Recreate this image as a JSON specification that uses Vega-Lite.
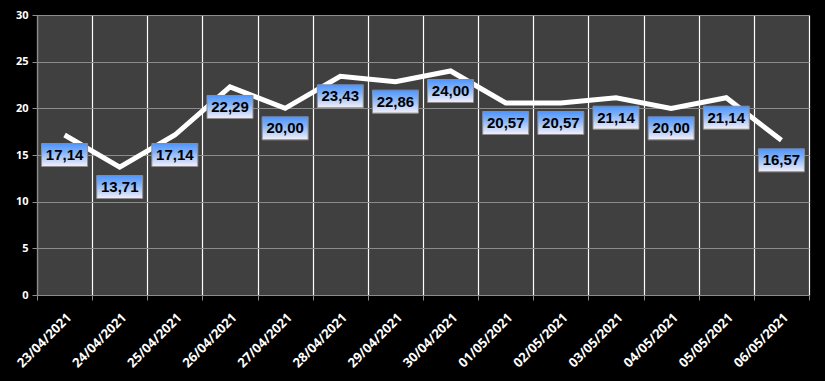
{
  "$schema": "https://vega.github.io/schema/vega-lite/v6.json",
  "width": 772,
  "height": 280,
  "autosize": {"type": "none"},
  "padding": {"left": 37, "top": 15, "right": 16, "bottom": 86},
  "background": "#000000",
  "config": {
    "locale": {"number": {"decimal": ",", "thousands": ".", "grouping": [3], "currency": ["", " €"]}},
    "view": {"fill": "#404040", "stroke": null},
    "axis": {"labelFont": "Open Sans", "labelFontWeight": "bold", "labelFontSize": 11, "labelColor": "#ffffff", "domainColor": "#8c8c8c", "tickColor": "#8c8c8c", "tickSize": 5, "title": null}
  },
  "data": {"values": [
    {"date": "23/04/2021", "value": 17.14},
    {"date": "24/04/2021", "value": 13.71},
    {"date": "25/04/2021", "value": 17.14},
    {"date": "26/04/2021", "value": 22.29},
    {"date": "27/04/2021", "value": 20.00},
    {"date": "28/04/2021", "value": 23.43},
    {"date": "29/04/2021", "value": 22.86},
    {"date": "30/04/2021", "value": 24.00},
    {"date": "01/05/2021", "value": 20.57},
    {"date": "02/05/2021", "value": 20.57},
    {"date": "03/05/2021", "value": 21.14},
    {"date": "04/05/2021", "value": 20.00},
    {"date": "05/05/2021", "value": 21.14},
    {"date": "06/05/2021", "value": 16.57}
  ]},
  "encoding": {
    "x": {
      "field": "date", "type": "ordinal", "sort": null, "bandPosition": 0.5,
      "scale": {"type": "band", "paddingInner": 0, "paddingOuter": 0},
      "axis": {"labelAngle": -45, "labelFontSize": 13, "tickBand": "extent", "grid": true, "gridColor": "#ffffff", "gridWidth": 1.2, "labelPadding": 11}
    },
    "y": {
      "field": "value", "type": "quantitative",
      "scale": {"domain": [0, 30], "nice": false},
      "axis": {"values": [0, 5, 10, 15, 20, 25, 30], "format": "d", "grid": true, "gridColor": "#8c8c8c", "labelPadding": 4}
    }
  },
  "layer": [
    {"mark": {"type": "line", "color": "#ffffff", "strokeWidth": 5, "strokeJoin": "miter"}},
    {"mark": {"type": "point", "filled": true, "opacity": 1, "shape": "M-1,-0.5H1V0.5H-1Z", "size": 2116, "yOffset": 20,
      "fill": {"gradient": "linear", "x1": 0, "y1": 0, "x2": 0, "y2": 1, "stops": [{"offset": 0, "color": "#4f95ff"}, {"offset": 0.35, "color": "#7cb0fb"}, {"offset": 1, "color": "#f5f0fa"}]},
      "stroke": "#8c8c8c", "strokeWidth": 1}},
    {"mark": {"type": "text", "yOffset": 20, "align": "center", "baseline": "middle", "font": "Liberation Sans", "fontWeight": "bold", "fontSize": 15, "color": "#000000"},
      "encoding": {"text": {"field": "value", "type": "quantitative", "format": ".2f"}}}
  ]
}
